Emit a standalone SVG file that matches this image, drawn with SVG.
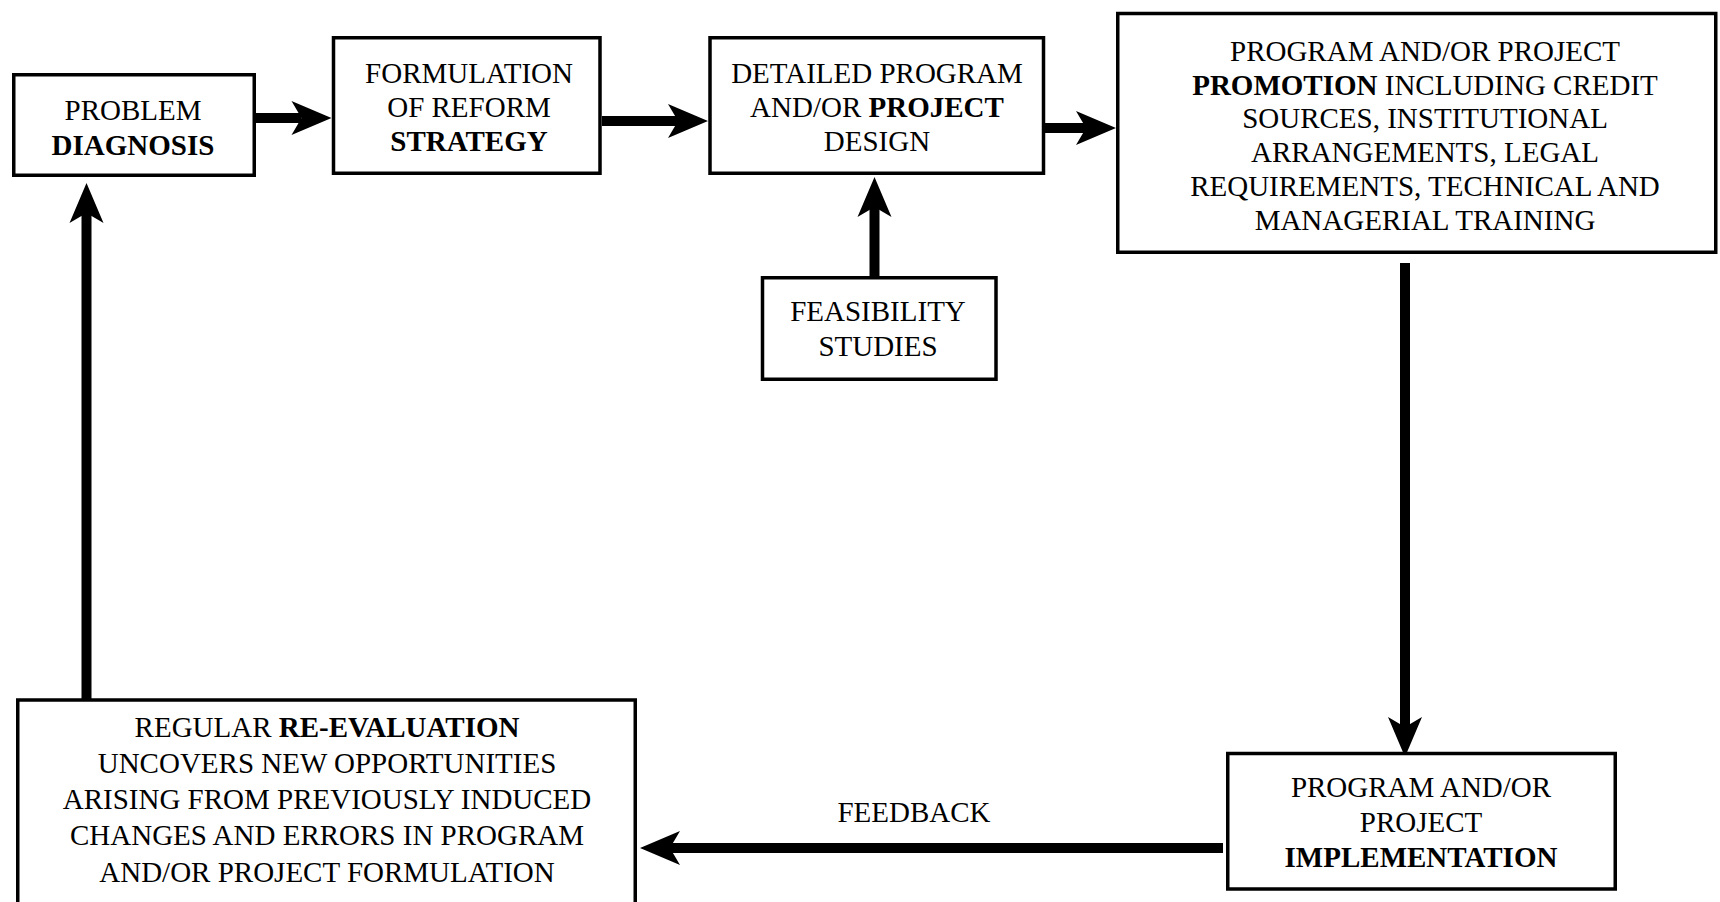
<svg xmlns="http://www.w3.org/2000/svg" width="1720" height="902" viewBox="0 0 1720 902">
  <style>
    .box { fill: #ffffff; stroke: #000000; stroke-width: 3.5; }
    .lbl { font-family: "Liberation Serif", "Times New Roman", serif; font-size: 29px; fill: #000000; text-anchor: middle; }
    .b { font-weight: bold; }
    .conn { stroke: #000000; stroke-width: 10; fill: none; marker-end: url(#head); }
  </style>
  <defs>
    <marker id="head" viewBox="-12 -19 44 38" refX="0" refY="0" markerWidth="44" markerHeight="38" markerUnits="userSpaceOnUse" orient="auto">
      <path d="M30,0 L-10,-17 L0,0 L-10,17 Z" fill="#000000"/>
    </marker>
  </defs>
  <rect width="1720" height="902" fill="#ffffff"/>

  <g id="connectors">
    <line class="conn" x1="256" y1="118" x2="301.5" y2="118"/>
    <line class="conn" x1="602" y1="121" x2="678" y2="121"/>
    <line class="conn" x1="1045" y1="128" x2="1086" y2="128"/>
    <line class="conn" x1="874.5" y1="276" x2="874.5" y2="207"/>
    <line class="conn" x1="1405" y1="263" x2="1405" y2="727"/>
    <line class="conn" x1="1223" y1="848" x2="670" y2="848"/>
    <line class="conn" x1="86.5" y1="700" x2="86.5" y2="213"/>
    <text class="lbl" x="914" y="822">FEEDBACK</text>
  </g>

  <g id="problem-diagnosis">
    <rect class="box" x="13.75" y="74.75" width="240.5" height="100.5"/>
    <text class="lbl" x="133" y="120">PROBLEM</text>
    <text class="lbl b" x="133" y="155">DIAGNOSIS</text>
  </g>

  <g id="formulation">
    <rect class="box" x="333.5" y="37.75" width="266.5" height="135.5"/>
    <text class="lbl" x="469" y="83">FORMULATION</text>
    <text class="lbl" x="469" y="117">OF REFORM</text>
    <text class="lbl b" x="469" y="151">STRATEGY</text>
  </g>

  <g id="detailed-design">
    <rect class="box" x="710" y="37.75" width="333.5" height="135.5"/>
    <text class="lbl" x="877" y="83">DETAILED PROGRAM</text>
    <text class="lbl" x="877" y="117">AND/OR <tspan class="b">PROJECT</tspan></text>
    <text class="lbl" x="877" y="151">DESIGN</text>
  </g>

  <g id="feasibility">
    <rect class="box" x="762.5" y="277.75" width="233.5" height="101.5"/>
    <text class="lbl" x="878" y="321">FEASIBILITY</text>
    <text class="lbl" x="878" y="356">STUDIES</text>
  </g>

  <g id="promotion">
    <rect class="box" x="1117.75" y="13.5" width="598" height="238.75"/>
    <text class="lbl" x="1425" y="60.5">PROGRAM AND/OR PROJECT</text>
    <text class="lbl" x="1425" y="94.5"><tspan class="b">PROMOTION</tspan> INCLUDING CREDIT</text>
    <text class="lbl" x="1425" y="128">SOURCES, INSTITUTIONAL</text>
    <text class="lbl" x="1425" y="162">ARRANGEMENTS, LEGAL</text>
    <text class="lbl" x="1425" y="195.5">REQUIREMENTS, TECHNICAL AND</text>
    <text class="lbl" x="1425" y="229.5">MANAGERIAL TRAINING</text>
  </g>

  <g id="implementation">
    <rect class="box" x="1227.75" y="753.5" width="387.5" height="135.5"/>
    <text class="lbl" x="1421" y="797">PROGRAM AND/OR</text>
    <text class="lbl" x="1421" y="832">PROJECT</text>
    <text class="lbl b" x="1421" y="867">IMPLEMENTATION</text>
  </g>

  <g id="re-evaluation">
    <rect class="box" x="17.75" y="700" width="617.5" height="215"/>
    <text class="lbl" x="327" y="737">REGULAR <tspan class="b">RE-EVALUATION</tspan></text>
    <text class="lbl" x="327" y="773">UNCOVERS NEW OPPORTUNITIES</text>
    <text class="lbl" x="327" y="809">ARISING FROM PREVIOUSLY INDUCED</text>
    <text class="lbl" x="327" y="845">CHANGES AND ERRORS IN PROGRAM</text>
    <text class="lbl" x="327" y="881.5">AND/OR PROJECT FORMULATION</text>
  </g>
</svg>
